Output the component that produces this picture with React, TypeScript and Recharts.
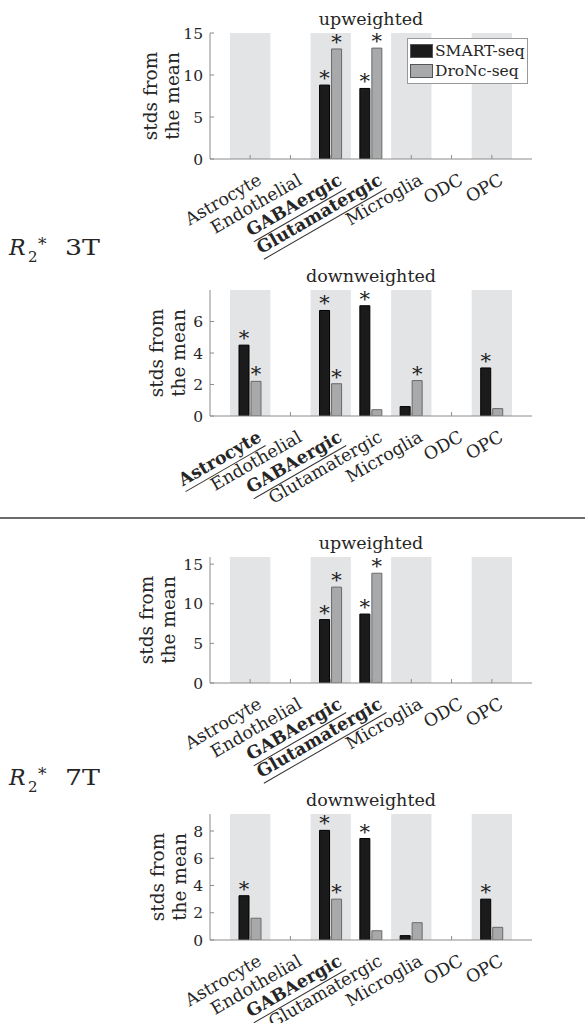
import React from 'react';
import { BarChart, Bar, XAxis, YAxis, ReferenceArea, LabelList, Legend } from 'recharts';

const FONT = '"DejaVu Serif", serif';
const TEXT = '#262626';
const AXIS = '#8c8c8c';
const BAND = '#e3e4e6';

const cellTypes = ['Astrocyte', 'Endothelial', 'GABAergic', 'Glutamatergic', 'Microglia', 'ODC', 'OPC'];
const shadedTypes = ['Astrocyte', 'GABAergic', 'Microglia', 'OPC'];
const seriesNames = ['SMART-seq', 'DroNc-seq'];
const seriesFill = ['#1b1b1b', '#a8a9ab'];

// R2* 3T
const up3tSmart = [0, 0, 8.8, 8.4, 0, 0, 0];
const up3tDronc = [0, 0, 13.1, 13.2, 0, 0, 0];
const up3tSmartSig = [false, false, true, true, false, false, false];
const up3tDroncSig = [false, false, true, true, false, false, false];
const up3tBold = ['GABAergic', 'Glutamatergic'];

const down3tSmart = [4.5, 0, 6.7, 7.0, 0.6, 0, 3.05];
const down3tDronc = [2.2, 0, 2.05, 0.4, 2.25, 0, 0.47];
const down3tSmartSig = [true, false, true, true, false, false, true];
const down3tDroncSig = [true, false, true, false, true, false, false];
const down3tBold = ['Astrocyte', 'GABAergic'];

// R2* 7T
const up7tSmart = [0, 0, 8.0, 8.7, 0, 0, 0];
const up7tDronc = [0, 0, 12.1, 13.85, 0, 0, 0];
const up7tSmartSig = [false, false, true, true, false, false, false];
const up7tDroncSig = [false, false, true, true, false, false, false];
const up7tBold = ['GABAergic', 'Glutamatergic'];

const down7tSmart = [3.25, 0, 8.05, 7.45, 0.32, 0, 3.0];
const down7tDronc = [1.6, 0, 3.0, 0.68, 1.27, 0, 0.93];
const down7tSmartSig = [true, false, true, true, false, false, true];
const down7tDroncSig = [false, false, true, false, false, false, false];
const down7tBold = ['GABAergic'];

const upTicks = [0, 5, 10, 15];
const down3tTicks = [0, 2, 4, 6];
const down7tTicks = [0, 2, 4, 6, 8];

const MARGIN_TOP = 32;
const PLOT_H = 126;
const CHART_H = MARGIN_TOP + PLOT_H + 80 + 30;
const XFS = 17.5;

let ctx: CanvasRenderingContext2D | null = null;
function textWidth(s: string, font: string) {
  if (!ctx) ctx = document.createElement('canvas').getContext('2d');
  if (!ctx) return s.length * 9;
  ctx.font = font;
  return ctx.measureText(s).width;
}

const XTick = (props: any) => {
  const { x, y, payload, bold } = props;
  const isBold = bold.includes(payload.value);
  const w = textWidth(payload.value, `${isBold ? 'bold ' : ''}${XFS}px "DejaVu Serif"`);
  return (
    <g transform={`translate(${x + 6},${y + 13}) rotate(-30)`}>
      <text x={0} y={0} dy="0.75em" textAnchor="end" fontFamily={FONT} fontSize={XFS}
        fontWeight={isBold ? 'bold' : 'normal'} fill={TEXT}>
        {payload.value}
      </text>
      {isBold && <line x1={-w} x2={0} y1={19} y2={19} stroke="#333" strokeWidth={1} />}
    </g>
  );
};

const Star = (props: any) => {
  const { x, y, width, value } = props;
  if (!value) return null;
  return (
    <text x={x + width / 2} y={y} textAnchor="middle" fontFamily={FONT} fontSize={21} fill="#1e1e1e">{value}</text>
  );
};

const LegendBox = () => (
  <div style={{ border: '1px solid #999', background: '#fff', width: 119, padding: '2px 0', fontFamily: FONT, fontSize: 15.5, color: TEXT, whiteSpace: 'nowrap' }}>
    {seriesNames.map((name, i) => (
      <div key={name} style={{ display: 'flex', alignItems: 'center', height: 20 }}>
        <span style={{ flex: 'none', width: 23, height: 14, marginLeft: 2, marginRight: 2, background: seriesFill[i], border: '1px solid #555', boxSizing: 'border-box' }} />
        <span>{name}</span>
      </div>
    ))}
  </div>
);

type PanelProps = {
  plotTop: number;
  title: string;
  smart: number[];
  dronc: number[];
  smartSig: boolean[];
  droncSig: boolean[];
  bold: string[];
  yMax: number;
  yTicks: number[];
  labelX: [number, number];
  legend?: boolean;
};

function Panel(p: PanelProps) {
  const data = cellTypes.map((name, i) => ({
    name,
    smart: p.smart[i],
    dronc: p.dronc[i],
    smartMark: p.smartSig[i] ? '*' : '',
    droncMark: p.droncSig[i] ? '*' : '',
  }));
  const cy = MARGIN_TOP + PLOT_H / 2;
  return (
    <div style={{ position: 'absolute', left: 0, top: p.plotTop - MARGIN_TOP }}>
      <BarChart width={585} height={CHART_H} data={data} barSize={10} barGap={2}
        margin={{ top: MARGIN_TOP, right: 53, bottom: 30, left: 150 }}>
        {shadedTypes.map((t) => (
          <ReferenceArea key={t} x1={t} x2={t} fill={BAND} fillOpacity={1} stroke="none" ifOverflow="visible" />
        ))}
        <XAxis dataKey="name" height={80} interval={0} padding={{ left: 20, right: 20 }}
          tickSize={-4} tickMargin={4} axisLine={{ stroke: AXIS }} tickLine={{ stroke: AXIS }}
          tick={<XTick bold={p.bold} />} />
        <XAxis xAxisId="top" orientation="top" dataKey="name" height={0} interval={0}
          padding={{ left: 20, right: 20 }} tickSize={-4} tick={false}
          axisLine={{ stroke: AXIS }} tickLine={{ stroke: AXIS }} />
        <YAxis domain={[0, p.yMax]} ticks={p.yTicks} width={60} allowDataOverflow
          tickSize={-4} tickMargin={11} axisLine={{ stroke: AXIS }} tickLine={{ stroke: AXIS }}
          tick={{ fontFamily: FONT, fontSize: 15.5, fill: TEXT }}
          label={{
            content: () => (
              <g fontFamily={FONT} fill={TEXT}>
                <text x={371} y={MARGIN_TOP - 8} textAnchor="middle" fontSize={17.5}>{p.title}</text>
                <text transform={`translate(${p.labelX[0]},${cy}) rotate(-90)`} textAnchor="middle" fontSize={18.5}>stds from</text>
                <text transform={`translate(${p.labelX[1]},${cy}) rotate(-90)`} textAnchor="middle" fontSize={18.5}>the mean</text>
              </g>
            ),
          }} />
        <YAxis yAxisId="right" orientation="right" width={0} domain={[0, p.yMax]} ticks={p.yTicks}
          allowDataOverflow tickSize={-4} tick={false}
          axisLine={{ stroke: AXIS }} tickLine={{ stroke: AXIS }} />
        <Bar dataKey="smart" name={seriesNames[0]} fill={seriesFill[0]} stroke="#000" strokeWidth={1} isAnimationActive={false}>
          <LabelList dataKey="smartMark" content={<Star />} />
        </Bar>
        <Bar dataKey="dronc" name={seriesNames[1]} fill={seriesFill[1]} stroke="#6a6a6a" strokeWidth={1} isAnimationActive={false}>
          <LabelList dataKey="droncMark" content={<Star />} />
        </Bar>
        {p.legend && (
          <Legend layout="horizontal" verticalAlign="middle" align="center"
            wrapperStyle={{ top: 38 - (p.plotTop - MARGIN_TOP), left: 407, width: 121 }}
            content={<LegendBox />} />
        )}
      </BarChart>
    </div>
  );
}

function Tag({ y, field }: { y: number; field: string }) {
  return (
    <g fontFamily={FONT} fill={TEXT}>
      <text x={9} y={y} fontSize={22} fontStyle="italic">R</text>
      <text x={28} y={y + 7} fontSize={15}>2</text>
      <text x={38} y={y - 5} fontSize={17}>*</text>
      <text x={65} y={y} fontSize={22} textLength={35} lengthAdjust="spacingAndGlyphs">{field}</text>
    </g>
  );
}

export default function App() {
  return (
    <div style={{ position: 'absolute', left: 0, top: 0, width: 585, height: 1023, background: '#fff', overflow: 'hidden' }}>
      <svg width={585} height={1023} style={{ position: 'absolute', left: 0, top: 0 }}>
        <Tag y={255} field="3T" />
        <Tag y={785} field="7T" />
        <line x1={0} x2={585} y1={518} y2={518} stroke="#3a3a3a" strokeWidth={1.5} />
      </svg>
      <Panel plotTop={33} title="upweighted" smart={up3tSmart} dronc={up3tDronc}
        smartSig={up3tSmartSig} droncSig={up3tDroncSig} bold={up3tBold}
        yMax={15} yTicks={upTicks} labelX={[157, 179]} legend />
      <Panel plotTop={290} title="downweighted" smart={down3tSmart} dronc={down3tDronc}
        smartSig={down3tSmartSig} droncSig={down3tDroncSig} bold={down3tBold}
        yMax={8} yTicks={down3tTicks} labelX={[163, 185]} />
      <Panel plotTop={557} title="upweighted" smart={up7tSmart} dronc={up7tDronc}
        smartSig={up7tSmartSig} droncSig={up7tDroncSig} bold={up7tBold}
        yMax={15.9} yTicks={upTicks} labelX={[153, 175]} />
      <Panel plotTop={814} title="downweighted" smart={down7tSmart} dronc={down7tDronc}
        smartSig={down7tSmartSig} droncSig={down7tDroncSig} bold={down7tBold}
        yMax={9.25} yTicks={down7tTicks} labelX={[164, 186]} />
    </div>
  );
}
